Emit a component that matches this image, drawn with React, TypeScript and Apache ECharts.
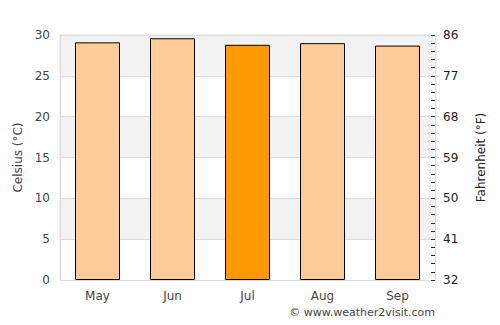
import React, { useEffect, useRef } from "react";
import * as echarts from "echarts";

const months = ["May", "Jun", "Jul", "Aug", "Sep"];
const tempsC = [29.1, 29.6, 28.8, 29.0, 28.7];
const highlight = [false, false, true, false, false];

export default function App() {
  const ref = useRef<HTMLDivElement>(null);
  useEffect(() => {
    const chart = echarts.init(ref.current!, null, { renderer: "svg" });
    const font = "DejaVu Sans";
    chart.setOption({
      animation: false,
      textStyle: { fontFamily: font },
      grid: {
        left: 60,
        right: 65,
        top: 35,
        bottom: 45,
        show: true,
        borderColor: "#dddddd",
        borderWidth: 1,
        backgroundColor: "transparent",
      },
      xAxis: {
        type: "category",
        data: months,
        axisTick: { show: false },
        axisLine: { lineStyle: { color: "#dddddd" } },
        axisLabel: { color: "#444", fontSize: 12, margin: 10, fontFamily: font },
      },
      yAxis: [
        {
          type: "value",
          min: 0,
          max: 30,
          interval: 5,
          name: "Celsius (°C)",
          nameLocation: "middle",
          nameGap: 36,
          nameTextStyle: { color: "#444", fontSize: 12, fontFamily: font },
          axisLine: { show: true, lineStyle: { color: "#dddddd" } },
          axisTick: { show: false },
          axisLabel: { color: "#444", fontSize: 12, margin: 10, fontFamily: font },
          splitLine: { show: true, lineStyle: { color: "#dddddd" } },
          splitArea: { show: true, areaStyle: { color: ["#ffffff", "#f2f2f2"] } },
        },
        {
          type: "value",
          min: 0,
          max: 30,
          interval: 5,
          position: "right",
          name: "Fahrenheit (°F)",
          nameLocation: "middle",
          nameGap: 40,
          nameTextStyle: { color: "#222", fontSize: 12, fontFamily: font },
          axisLine: { show: true, lineStyle: { color: "#dddddd" } },
          axisTick: { show: true, inside: true, length: 4, lineStyle: { color: "#333" } },
          minorTick: { show: true, splitNumber: 5, length: 4, lineStyle: { color: "#333" } },
          axisLabel: {
            color: "#222",
            fontSize: 12,
            margin: 8,
            fontFamily: font,
            formatter: (v: number) => String(Math.round(v * 1.8 + 32)),
          },
          splitLine: { show: false },
        },
      ],
      series: [
        {
          type: "bar",
          yAxisIndex: 0,
          barWidth: "60%",
          data: tempsC.map((v, i) => ({
            value: v,
            itemStyle: {
              color: highlight[i] ? "#ff9900" : "#ffcc99",
              borderColor: "#000",
              borderWidth: 1,
            },
          })),
        },
      ],
      graphic: [
        {
          type: "text",
          right: 65,
          top: 307,
          style: {
            text: "© www.weather2visit.com",
            fill: "#444",
            fontSize: 11,
            fontFamily: font,
          },
        },
      ],
    });
    return () => chart.dispose();
  }, []);
  return <div ref={ref} style={{ width: 500, height: 325, margin: -8 }} />;
}
